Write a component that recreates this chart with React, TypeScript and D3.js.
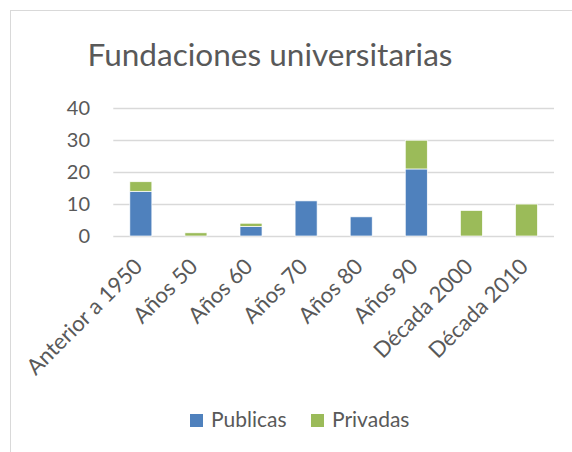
import React from "react";
import * as d3 from "d3";

const categories = ["Anterior a 1950", "Años 50", "Años 60", "Años 70", "Años 80", "Años 90", "Década 2000", "Década 2010"];
const publicas = [14, 0, 3, 11, 6, 21, 0, 0];
const privadas = [3, 1, 1, 0, 0, 9, 8, 10];
const seriesNames = ["Publicas", "Privadas"];
const seriesColors = ["#4F81BD", "#9BBB59"];
const yTicks = [0, 10, 20, 30, 40];
const title = "Fundaciones universitarias";

const W = 572, H = 452;
const FONT = "Lato, 'Open Sans', sans-serif";
const TXT = "#595959";

export default function App() {
  const x = d3.scaleBand<string>().domain(categories).range([113.3, 554]).paddingInner(0.6).paddingOuter(0.3);
  const y = d3.scaleLinear().domain([0, 40]).range([236, 108.3]);
  const rows = categories.map((c, i) => ({ cat: c, Publicas: publicas[i], Privadas: privadas[i] }));
  const stacked = d3.stack<any>().keys(seriesNames)(rows);

  return (
    <svg width={W} height={H} style={{ position: "absolute", left: 0, top: 0, background: "#fff" }} fontFamily={FONT}>
      <rect x={0} y={0} width={W} height={H} fill="#fff" />
      <rect x={10.5} y={10.5} width={700} height={600} fill="none" stroke="#D9D9D9" strokeWidth={1} />
      <text x={270} y={66} textAnchor="middle" fontSize={31} fill={TXT} textLength={365} lengthAdjust="spacingAndGlyphs">{title}</text>
      {yTicks.map((t) => (
        <g key={t}>
          <line x1={113.3} x2={554} y1={Math.round(y(t)) + 0.5} y2={Math.round(y(t)) + 0.5} stroke="#D9D9D9" strokeWidth={1.3} />
          <text x={90} y={y(t) + 7} textAnchor="end" fontSize={20} fill={TXT}>{t}</text>
        </g>
      ))}
      {stacked.map((s, si) => (
        <g key={s.key} fill={seriesColors[si]}>
          {s.map((d, i) => d[1] - d[0] > 0 ? (
            <rect key={i} x={x(categories[i])!} width={x.bandwidth()} y={y(d[1])} height={y(d[0]) - y(d[1])} stroke="#fff" strokeWidth={0.7} />
          ) : null)}
        </g>
      ))}
      {categories.map((c) => {
        const cx = x(c)! + x.bandwidth() / 2 + 3;
        const cy = 268;
        return (
          <text key={c} transform={`translate(${cx},${cy}) rotate(-45)`} textAnchor="end" fontSize={22} fill={TXT}>{c}</text>
        );
      })}
      {seriesNames.map((n, i) => {
        const lx = i === 0 ? 190 : 311;
        return (
          <g key={n}>
            <rect x={lx} y={414} width={13} height={13} fill={seriesColors[i]} />
            <text x={lx + 21} y={427} fontSize={21} fill={TXT}>{n}</text>
          </g>
        );
      })}
    </svg>
  );
}
